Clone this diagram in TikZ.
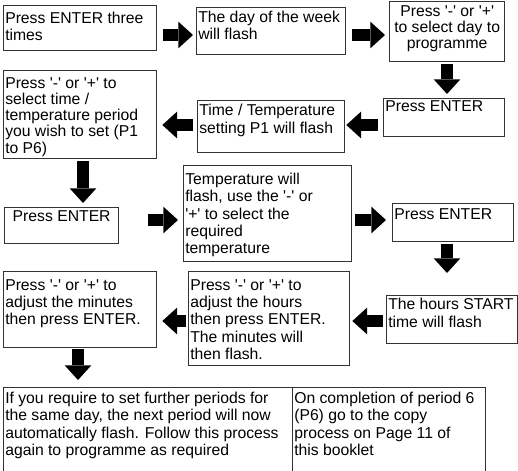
\documentclass[tikz,border=0pt]{standalone}
\usepackage{fontspec}
\setmainfont{Liberation Sans}[Ligatures=TeXOff]
\usetikzlibrary{arrows.meta,positioning}

\begin{document}
\begin{tikzpicture}[x=0.75pt,y=-0.75pt,
  stepbox/.style={draw=black!80, line width=1pt, anchor=north west, inner sep=0pt},
  steptext/.style={anchor=north west, align=left, inner xsep=1.5pt, inner ysep=5pt, font=\fontsize{11.8}{13}\selectfont},
  midtext/.style={steptext, anchor=north, align=center},
  tight/.style={font=\fontsize{11.8}{12.2}\selectfont},
  flow/.style={black, line width=9pt, -{Triangle[width=20pt,length=11pt,line width=0pt]}}]
  \useasboundingbox (0,0) rectangle (518,471);

  % boxes, row by row
  \node (b1) [stepbox, minimum width=114.75pt, minimum height=33.75pt] at (3,5) {};
  \node (b2) [stepbox, minimum width=111.75pt, minimum height=35.25pt] at (196,7) {};
  \node (b3) [stepbox, minimum width=86.25pt, minimum height=45pt] at (389,1) {};
  \node (b4) [stepbox, minimum width=90.75pt, minimum height=28.5pt] at (383,98) {};
  \node (b5) [stepbox, minimum width=110.25pt, minimum height=39pt] at (197,100) {};
  \node (b6) [stepbox, minimum width=114.75pt, minimum height=66pt] at (3,70) {};
  \node (b7) [stepbox, minimum width=85.5pt, minimum height=27pt] at (4,207) {};
  \node (b8) [stepbox, minimum width=126pt, minimum height=72pt] at (183,165) {};
  \node (b9) [stepbox, minimum width=90.75pt, minimum height=28.5pt] at (392,203) {};
  \node (b10) [stepbox, minimum width=98.25pt, minimum height=36pt] at (386,295) {};
  \node (b11) [stepbox, minimum width=120.75pt, minimum height=70.5pt] at (188,271) {};
  \node (b12) [stepbox, minimum width=114.75pt, minimum height=57pt] at (3,271) {};
  \node (b13) [stepbox, minimum width=216.75pt, minimum height=69.75pt] at (3,387) {};
  \node (b14) [stepbox, minimum width=144.75pt, minimum height=69.75pt] at (292,387) {};

  % texts
  \node (b1t) [steptext] at (b1.north west) {Press ENTER three\\times};
  \node (b2t) [steptext, inner ysep=2.5pt] at (b2.north west) {The day of the week\\will flash};
  \node (b3t) [midtext, tight, inner ysep=3pt] at (b3.north) {Press '-' or '+'\\to select day to\\programme};
  \node (b4t) [steptext, inner ysep=2pt] at (b4.north west) {Press ENTER};
  \node (b5t) [steptext, inner ysep=3pt] at (b5.north west) {Time / Temperature\\setting P1 will flash};
  \node (b6t) [steptext, tight, inner ysep=5.25pt] at (b6.north west) {Press '-' or '+' to\\select time /\\temperature period\\you wish to set (P1\\to P6)};
  \node (b7t) [midtext, inner ysep=2.5pt] at (b7.north) {Press ENTER};
  \node (b8t) [steptext, inner ysep=5.75pt] at (b8.north west) {Temperature will\\flash, use the '-' or\\'+' to select the\\required\\temperature};
  \node (b9t) [steptext, inner ysep=3.75pt] at (b9.north west) {Press ENTER};
  \node (b10t) [steptext, inner ysep=2.25pt] at (b10.north west) {The hours START\\time will flash};
  \node (b11t) [steptext, inner ysep=6pt] at (b11.north west) {Press '-' or '+' to\\adjust the hours\\then press ENTER.\\The minutes will\\then flash.};
  \node (b12t) [steptext, inner ysep=6pt] at (b12.north west) {Press '-' or '+' to\\adjust the minutes\\then press ENTER.};
  \node (b13t) [steptext, inner ysep=3.5pt] at (b13.north west) {If you require to set further periods for\\the same day, the next period will now\\automatically flash. Follow this process\\again to programme as required};
  \node (b14t) [steptext, inner ysep=3.5pt] at (b14.north west) {On completion of period 6\\(P6) go to the copy\\process on Page 11 of\\this booklet};

  % block arrows
  \draw [flow, shorten <=4.5pt, shorten >=2.25pt] (b1.east |- 0,35) -- (b2.west |- 0,35);
  \draw [flow, shorten <=4.5pt, shorten >=3pt] (b2.east |- 0,35) -- (b3.west |- 0,35);
  \draw [flow, shorten <=1.5pt, shorten >=3pt] (b3.south -| 447,0) -- (b4.north -| 447,0);
  \draw [flow, shorten <=3.75pt, shorten >=0.75pt] (b4.west |- 0,125) -- (b5.east |- 0,125);
  \draw [flow, shorten <=3pt, shorten >=3.75pt] (b5.west |- 0,125) -- (b6.east |- 0,125);
  \draw [flow, shorten <=1.5pt, shorten >=3pt] (b6.south -| 83,0) -- (b7.north -| 83,0);
  \draw [flow, shorten <=21.75pt, shorten >=3.75pt] (b7.east |- 0,220) -- (b8.west |- 0,220);
  \draw [flow, shorten <=2.25pt, shorten >=4.5pt] (b8.east |- 0,220) -- (b9.west |- 0,220);
  \draw [flow, shorten <=1.5pt, shorten >=16.5pt] (b9.south -| 447,0) -- (b10.north -| 447,0);
  \draw [flow, shorten <=2.25pt, shorten >=1.5pt] (b10.west |- 0,321) -- (b11.east |- 0,321);
  \draw [flow, shorten <=1.5pt, shorten >=3.75pt] (b11.west |- 0,321) -- (b12.east |- 0,321);
  \draw [flow, shorten <=0.75pt, shorten >=5.25pt] (b12.south -| 78,0) -- (b13.north -| 78,0);
\end{tikzpicture}
\end{document}
